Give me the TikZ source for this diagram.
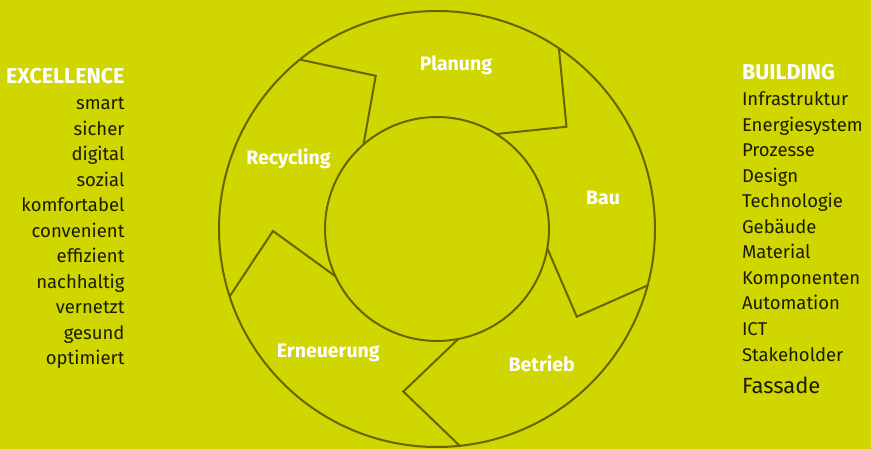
\documentclass[tikz,border=0pt]{standalone}
\usepackage{fontspec}
\setmainfont{Fira Sans}
\usetikzlibrary{calc}
\definecolor{cyclebg}{RGB}{208,214,0}
\definecolor{cycleline}{RGB}{100,102,0}
\definecolor{listtext}{RGB}{28,28,0}
\begin{document}
\begin{tikzpicture}[
  x=1pt, y=-1pt,
  ring/.style={circle, draw=cycleline, line width=2pt, outer sep=0pt, inner sep=0pt},
  chevron/.style={draw=cycleline, line width=2pt, line join=miter},
  phase/.style={font=\bfseries\fontsize{19.5}{22}\selectfont, text=white, inner sep=0pt},
  leftitem/.style={text width=120pt, align=right, inner sep=0pt, text height=12pt, text depth=4pt,
    font=\fontsize{18.5}{21}\selectfont, text=listtext},
  rightitem/.style={leftitem, text width=130pt, align=left},
  listhead/.style={font=\bfseries\fontsize{21.5}{24}\selectfont, text=white},
  node distance=25.5pt
]
\fill[cyclebg] (0,0) rectangle (871,449);
\useasboundingbox (0,0) rectangle (871,449);

% Cycle
\node[ring, minimum size=436pt] (outer) at (437,229) {};
\node[ring, minimum size=224pt] (inner) at (437,229) {};

\draw[chevron] (outer.129.3) -- ($(outer.center)+(111.8:165pt)$) -- (inner.131.5);
\draw[chevron] (outer.56.1) -- ($(outer.center)+(38.3:165pt)$) -- (inner.58.9);
\draw[chevron] (outer.-15) -- ($(outer.center)+(-32.1:165pt)$) -- (inner.-10);
\draw[chevron] (outer.-84.2) -- ($(outer.center)+(-101.7:166pt)$) -- (inner.-79.1);
\draw[chevron] (outer.-162.8) -- ($(outer.center)+(-179.3:164pt)$) -- (inner.-155.6);

% Phases
\node[phase, anchor=base] (planung) at (456,71) {Planung};
\node[phase, anchor=base] (bau) at (603,205) {Bau};
\node[phase, anchor=base] (betrieb) at (541.7,371.7) {Betrieb};
\node[phase, anchor=base] (erneuerung) at (328.3,357.3) {Erneuerung};
\node[phase, anchor=base] (recycling) at (288.5,164.3) {Recycling};

% Left list
\node[leftitem, listhead] (excellence) at (64.5,80) {EXCELLENCE};
\node[leftitem, below of=excellence, node distance=26pt] (smart) {smart};
\node[leftitem, below of=smart] (sicher) {sicher};
\node[leftitem, below of=sicher] (digital) {digital};
\node[leftitem, below of=digital] (sozial) {sozial};
\node[leftitem, below of=sozial] (komfortabel) {komfortabel};
\node[leftitem, below of=komfortabel] (convenient) {convenient};
\node[leftitem, below of=convenient] (effizient) {effizient};
\node[leftitem, below of=effizient] (nachhaltig) {nachhaltig};
\node[leftitem, below of=nachhaltig] (vernetzt) {vernetzt};
\node[leftitem, below of=vernetzt] (gesund) {gesund};
\node[leftitem, below of=gesund] (optimiert) {optimiert};

% Right list
\node[rightitem, listhead] (building) at (807,76) {BUILDING};
\node[rightitem, below of=building, node distance=26pt] (infra) {Infrastruktur};
\node[rightitem, below of=infra] (energie) {Energiesystem};
\node[rightitem, below of=energie] (prozesse) {Prozesse};
\node[rightitem, below of=prozesse] (design) {Design};
\node[rightitem, below of=design] (technologie) {Technologie};
\node[rightitem, below of=technologie] (gebaeude) {Gebäude};
\node[rightitem, below of=gebaeude] (material) {Material};
\node[rightitem, below of=material] (komponenten) {Komponenten};
\node[rightitem, below of=komponenten] (automation) {Automation};
\node[rightitem, below of=automation] (ict) {ICT};
\node[rightitem, below of=ict] (stakeholder) {Stakeholder};
\node[rightitem, below of=stakeholder, node distance=32.5pt, font=\fontsize{22}{25}\selectfont] (fassade) {Fassade};

\end{tikzpicture}
\end{document}
